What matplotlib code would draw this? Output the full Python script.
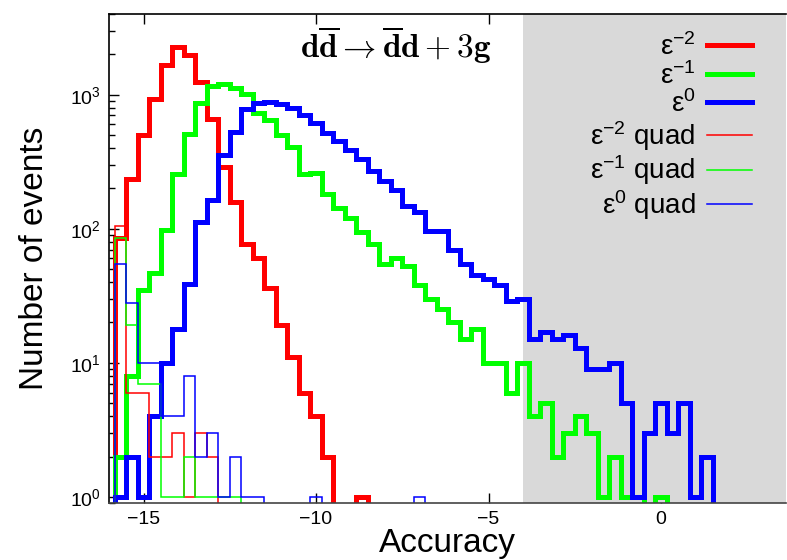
import numpy as np
import matplotlib
matplotlib.use("Agg")
import matplotlib.pyplot as plt
from matplotlib.lines import Line2D
from matplotlib.ticker import LogLocator, LogFormatterSciNotation, FixedLocator

plt.rcParams['font.family'] = ['Liberation Sans', 'DejaVu Sans']
plt.rcParams['mathtext.fontset'] = 'custom'
plt.rcParams['mathtext.rm'] = 'Liberation Sans'
plt.rcParams['mathtext.it'] = 'Liberation Sans:italic'
plt.rcParams['mathtext.bf'] = 'Liberation Sans:bold'

# ---- data: histogram counts, bins of width 1/3 starting at -15.8333 ----
bin_width = 1.0 / 3.0
bin_start = -15.5 - 1.0 / 3.0

eps_m2 = [85, 236, 497, 922, 1654, 2265, 1964, 1242, 662, 288, 158, 77, 61, 36,
          19, 11, 6, 4, 2, 0, 0, 1]
eps_m1 = [2, 8, 35, 47, 98, 254, 511, 865, 1153, 1208, 1120, 1016, 729, 643, 497,
          406, 257, 262, 182, 143, 121, 94, 77, 55, 60, 53, 38, 30, 25, 20, 15, 18,
          10, 10, 6, 10, 4, 5, 2, 3, 4, 3, 1, 2, 1, 1, 0, 1]
eps_0 = [1, 2, 1, 4, 10, 18, 39, 112, 165, 352, 526, 786, 865, 881, 857, 800, 701,
         614, 517, 450, 384, 333, 269, 229, 195, 149, 133, 96, 96, 70, 55, 45, 42,
         38, 29, 30, 15, 17, 15, 16, 13, 9, 9, 10, 5, 1, 3, 5, 3, 5, 1, 2]
eps_m2_quad = [104, 6, 6, 2, 2, 3, 1, 3, 2]
eps_m1_quad = [85, 19, 7, 7, 1, 1, 2, 1, 1, 1, 1]
eps_0_quad = [55, 28, 10, 10, 4, 4, 8, 2, 3, 1, 2, 1, 1, 0, 0, 0, 0, 1, 0, 0, 0,
              0, 0, 0, 0, 0, 1]

labels = [r'ε$^{-2}$', r'ε$^{-1}$', r'ε$^{0}$',
          r'ε$^{-2}$ quad', r'ε$^{-1}$ quad', r'ε$^{0}$ quad']
colors = ['#ff0000', '#00ff00', '#0000ff']

x_ticks = [-15, -10, -5, 0]
unstable_from = -4.0

fig = plt.figure(figsize=(7.87, 5.60), dpi=100)
ax = fig.add_axes([0.1385, 0.1018, 0.8602, 0.8732])
ax.set_yscale('log', nonpositive='clip')

ax.axvspan(unstable_from, 3.62, color='#d9d9d9', lw=0, zorder=2.6)

series = [eps_m2, eps_m1, eps_0, eps_m2_quad, eps_m1_quad, eps_0_quad]
handles = []
for i, vals in enumerate(series):
    vals = np.asarray(vals, dtype=float)
    edges = bin_start + bin_width * np.arange(len(vals) + 1)
    thick = i < 3
    c = colors[i % 3]
    lw = 3.6 if thick else 1.1
    p = ax.stairs(vals, edges, baseline=0, color=c, lw=lw, zorder=3 if thick else 3.2)
    p.set_joinstyle('miter')
    handles.append(Line2D([], [], color=c, lw=lw))

ax.set_xlim(-16.0, 3.62)
ax.set_ylim(0.9, 4000)

ax.xaxis.set_major_locator(FixedLocator(x_ticks))
ax.yaxis.set_major_locator(LogLocator(base=10, numticks=10))
ax.yaxis.set_minor_locator(LogLocator(base=10, subs=np.arange(2, 10), numticks=10))
ax.yaxis.set_major_formatter(LogFormatterSciNotation())
ax.tick_params(axis='both', which='major', direction='in', labelsize=14,
               length=7, width=1.0, top=True, right=False, pad=6)
ax.tick_params(axis='y', which='minor', direction='in', length=4, width=1.0, right=False)
ax.tick_params(axis='x', which='minor', bottom=False, top=False)

for s in ['top', 'bottom', 'left']:
    ax.spines[s].set_zorder(4)
    ax.spines[s].set_linewidth(1.2)
ax.spines['bottom'].set_color('#444444')
ax.spines['right'].set_visible(False)

ax.set_xlabel('Accuracy', fontsize=24, labelpad=0)
ax.set_ylabel('Number of events', fontsize=24, labelpad=14)

ax.text(0.424, 0.935, r'$\mathbf{d\overline{d}\rightarrow\overline{d}d+3g}$',
        transform=ax.transAxes, ha='center', va='center', fontsize=24,
        math_fontfamily='cm', zorder=5)

leg = ax.legend(handles, labels, loc='upper right', markerfirst=False, frameon=False,
                fontsize=20, handlelength=1.65, handletextpad=0.4, labelspacing=0.03,
                borderaxespad=0.2, bbox_to_anchor=(0.975, 0.995))
for t in leg.get_texts():
    t.set_ha('right')
leg.set_zorder(5)

fig.savefig('out.png', dpi=100)
